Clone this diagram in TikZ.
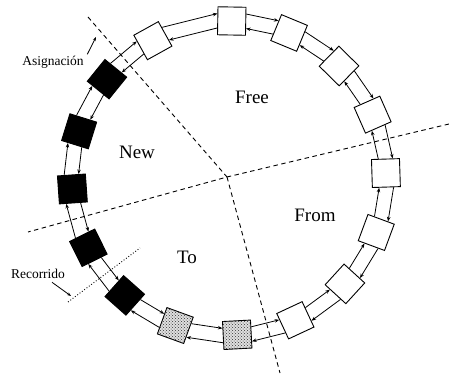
\documentclass[tikz,border=0pt]{standalone}
\usepackage{fontspec}
\setmainfont{Liberation Serif}
\newfontfamily\labelserif{Liberation Serif}
\usetikzlibrary{calc,arrows.meta,patterns}
\begin{document}
\begin{tikzpicture}[x=1pt,y=1pt,
  cell/.style={draw=black,line width=0.9pt,minimum size=28pt,inner sep=0pt,fill=white},
  wcell/.style={cell},
  kcell/.style={cell,fill=black},
  tcell/.style={cell,fill=gray!25,postaction={pattern=crosshatch dots,pattern color=black!80}},
  link/.style={line width=0.8pt,-{Stealth[length=4.5pt,width=3.5pt]}},
  region/.style={dash pattern=on 4.5pt off 3.5pt,line width=0.9pt},
  big/.style={font=\labelserif\fontsize{19}{21}\selectfont},
  small/.style={font=\labelserif\fontsize{13.5}{15}\selectfont},
  leader/.style={line width=0.8pt,-{Stealth[length=4pt,width=3pt]}}]
\useasboundingbox (0,0) rectangle (449,380);
\coordinate (C) at (229,202);
% boxes
\foreach \i/\a/\s in {1/89/wcell,2/67.5/wcell,3/45.5/wcell,4/23.8/wcell,5/1.8/wcell,
  6/-20.3/wcell,7/-42.4/wcell,8/-65/wcell,9/-87/tcell,10/-110/tcell,
  11/-131.6/kcell,12/-153.6/kcell,13/-176/kcell,14/-197.3/kcell,15/-219/kcell,16/-241/wcell}
  \node[\s,rotate=\a-90] (b\i) at ($(C)+(\a:157pt)$) {};
% links
\foreach \i/\j in {1/2,2/3,3/4,4/5,5/6,6/7,7/8,8/9,9/10,10/11,11/12,12/13,13/14,14/15,15/16,16/1}{
  \draw[link] ($(b\i.east)!0.5!(b\i.north east)$) -- ($(b\j.west)!0.5!(b\j.north west)$);
  \draw[link] ($(b\j.west)!0.5!(b\j.south west)$) -- ($(b\i.east)!0.5!(b\i.south east)$);
}
% region separators
\coordinate (J) at (227,203);
\coordinate (pA) at (88,363);
\coordinate (pR) at (449,256);
\coordinate (pL) at (28,148);
\coordinate (pB) at (280,7);
\draw[region] (pA) -- (J);
\draw[region] (pR) -- (J) -- (pL);
\draw[region] (J) -- (pB);
% labels
\node[big] (free) at (252,283) {Free};
\node[big] (new) at (137,228) {New};
\node[big] (from) at (315,165) {From};
\node[big] (to) at (187,123) {To};
\node[small] (asig) at (53,318) {Asignación};
\node[small] (reco) at (38,106) {Recorrido};
\coordinate (asigEnd) at (96,343);
\coordinate (recoEnd) at (71,84);
\draw[leader] (asig.north east) ++(0,-2) -- (asigEnd);
\draw[leader] (reco.south) ++(14,0) -- (recoEnd);
\coordinate (d1) at (68,78);
\coordinate (d2) at (140,132);
\draw[line width=0.9pt,dotted] (d1) -- (d2);
\end{tikzpicture}
\end{document}
